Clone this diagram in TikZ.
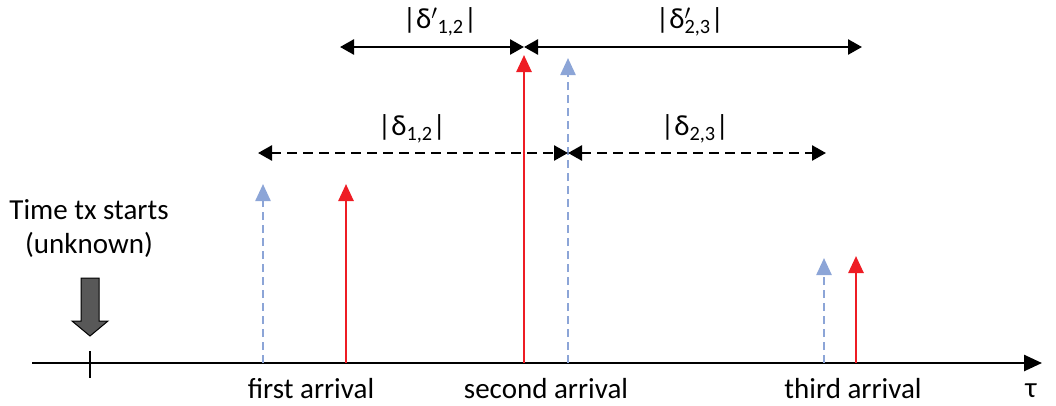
\documentclass[tikz,border=0pt]{standalone}
\usepackage{fontspec}
\setmainfont{Carlito}
\usetikzlibrary{arrows.meta}
\definecolor{arrred}{RGB}{238,28,36}
\definecolor{arrblue}{RGB}{140,165,215}
\definecolor{blockgray}{RGB}{88,88,88}
\tikzset{
  lbl/.style={font=\fontsize{29}{34}\selectfont, inner sep=0pt},
  redarr/.style={draw=arrred, line width=2.6pt, -{Triangle[length=17pt,width=15pt]}},
  bluearr/.style={draw=arrblue, line width=2.4pt, dash pattern=on 8pt off 5pt, -{Triangle[length=17pt,width=15pt]}},
  dimarr/.style={draw=black, line width=2.6pt, {Triangle[length=14pt,width=15pt]}-{Triangle[length=14pt,width=15pt]}},
  dimdash/.style={dimarr, dash pattern=on 10pt off 6pt},
}
\begin{document}
\begin{tikzpicture}[x=1pt,y=-1pt]
\useasboundingbox (0,0) rectangle (1056,405);
% axis
\coordinate (a0) at (32,363);
\coordinate (a1) at (1042,363);
\draw[line width=2.6pt, -{Triangle[length=18pt,width=16pt]}] (a0) -- (a1);
\coordinate (t0) at (90,351);
\coordinate (t1) at (90,378);
\draw[line width=1.6pt] (t0) -- (t1);
% block arrow
\fill[blockgray, draw=black, line width=1pt] (81,278) -- (99,278) -- (99,321) -- (108,321) -- (90,336) -- (72,321) -- (81,321) -- cycle;
\node[lbl, align=center] (start) at (89,229) {Time tx starts\\(unknown)};
% arrivals
\coordinate (b1) at (263,363); \coordinate (b1t) at (263,184);
\coordinate (r1) at (346,363); \coordinate (r1t) at (346,184);
\coordinate (r2) at (524,363); \coordinate (r2t) at (524,55);
\coordinate (b2) at (568,363); \coordinate (b2t) at (568,58);
\coordinate (b3) at (824,363); \coordinate (b3t) at (824,258);
\coordinate (r3) at (856,363); \coordinate (r3t) at (856,256);
\draw[bluearr] (b1) -- (b1t);
\draw[redarr] (r1) -- (r1t);
\draw[redarr] (r2) -- (r2t);
\draw[bluearr] (b2) -- (b2t);
\draw[bluearr] (b3) -- (b3t);
\draw[redarr] (r3) -- (r3t);
\node[lbl] (first) at (311,389) {first arrival};
\node[lbl] (second) at (546,389) {second arrival};
\node[lbl] (third) at (853,389) {third arrival};
\node[lbl] (tau) at (1031,391) {τ};
% dashed deltas
\coordinate (d1) at (258,153); \coordinate (d2) at (568,153); \coordinate (d3) at (826,153);
\draw[dimdash] (d1) -- (d2);
\draw[dimdash] (d2) -- (d3);
\node[lbl] (del12) at (412,129) {|δ\textsubscript{1,2}|};
\node[lbl] (del23) at (695,129) {|δ\textsubscript{2,3}|};
% solid deltas
\coordinate (e1) at (340,47); \coordinate (e2) at (524,47); \coordinate (e3) at (862,47);
\draw[dimarr] (e1) -- (e2);
\draw[dimarr] (e2) -- (e3);
\node[lbl] (dp12) at (440,22) {|δ$'$\textsubscript{1,2}|};
\node[lbl] (dp23) at (690,22) {|δ\rlap{$'$}\textsubscript{2,3}|};
\end{tikzpicture}
\end{document}
